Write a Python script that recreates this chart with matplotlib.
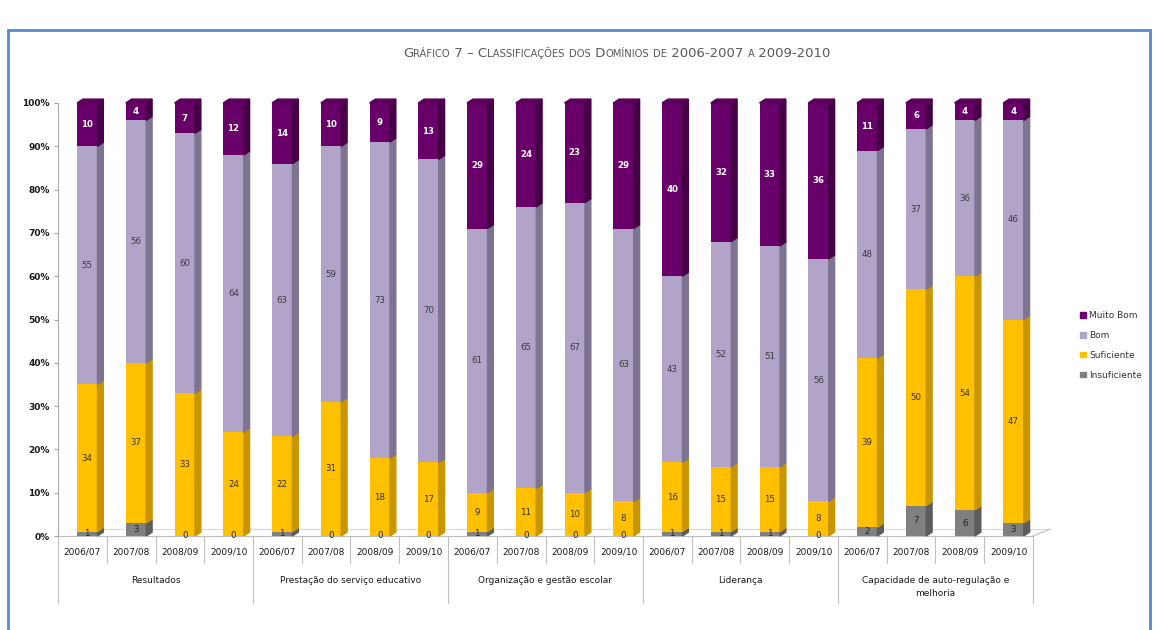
import matplotlib
matplotlib.use("Agg")
import matplotlib.pyplot as plt
from matplotlib.patches import Polygon, Patch, Rectangle
import numpy as np

plt.rcParams['font.family'] = ['DejaVu Sans']

# ---- data ----
groups = ['Resultados', 'Prestação do serviço educativo', 'Organização e gestão escolar',
          'Liderança', 'Capacidade de auto-regulação e\nmelhoria']
years = ['2006/07', '2007/08', '2008/09', '2009/10']
series = ['Insuficiente', 'Suficiente', 'Bom', 'Muito Bom']

insuficiente = [1, 3, 0, 0,   1, 0, 0, 0,   1, 0, 0, 0,   1, 1, 1, 0,   2, 7, 6, 3]
suficiente   = [34, 37, 33, 24,  22, 31, 18, 17,  9, 11, 10, 8,  16, 15, 15, 8,  39, 50, 54, 47]
bom          = [55, 56, 60, 64,  63, 59, 73, 70,  61, 65, 67, 63,  43, 52, 51, 56,  48, 37, 36, 46]
muito_bom    = [10, 4, 7, 12,  14, 10, 9, 13,  29, 24, 23, 29,  40, 32, 33, 36,  11, 6, 4, 4]

values = [insuficiente, suficiente, bom, muito_bom]
front = ['#808080', '#FFC000', '#B2A3C9', '#690069']
side = ['#5C5C5C', '#C89600', '#7E7491', '#460046']
top_col = '#5A005A'
label_col = ['#222222', '#333333', '#3a3a3a', 'white']

W, H = 1155, 630
fig = plt.figure(figsize=(W / 100, H / 100), dpi=100)
ax = fig.add_axes([58 / W, (H - 536) / H, 975 / W, 433 / H])
ax.set_xlim(-0.5, 19.5)
ax.set_ylim(0, 100)

n = len(muito_bom)
x = np.arange(n)
off = 0.1          # bar shift to the right (3D look)
bw = 0.42          # front face width
d = 0.12           # depth in x
dy = 0.9           # depth in y (%)

bottom = np.zeros(n)
for k, vals in enumerate(values):
    vals = np.array(vals, dtype=float)
    ax.bar(x + off, vals, bw, bottom=bottom, color=front[k], zorder=3)
    for i in range(n):
        b, t = bottom[i], bottom[i] + vals[i]
        xr = x[i] + off + bw / 2
        if vals[i] > 0:
            ax.add_patch(Polygon([(xr, b), (xr + d, b + dy), (xr + d, t + dy), (xr, t)],
                                 closed=True, color=side[k], zorder=3, clip_on=False))
        yl = (b + t) / 2
        ax.text(x[i] + off, yl, f'{int(vals[i])}', ha='center', va='center',
                fontsize=6.2, color=label_col[k],
                fontweight='bold' if k == 3 else 'normal', zorder=5)
    bottom += vals

# top faces
for i in range(n):
    xl = x[i] + off - bw / 2
    xr = x[i] + off + bw / 2
    t = bottom[i]
    ax.add_patch(Polygon([(xl, t), (xl + d, t + dy), (xr + d, t + dy), (xr, t)],
                         closed=True, color=top_col, zorder=3, clip_on=False))

# floor
ax.plot([-0.5, 19.5], [0, 0], color='#BFBFBF', lw=0.8, clip_on=False, zorder=2)
ax.plot([-0.5 + 0.35, 19.5 + 0.35], [1.6, 1.6], color='#D9D9D9', lw=0.8, clip_on=False, zorder=1)
ax.plot([19.5, 19.85], [0, 1.6], color='#BFBFBF', lw=0.8, clip_on=False, zorder=1)

# axes styling
for s in ['top', 'right', 'bottom']:
    ax.spines[s].set_visible(False)
ax.spines['left'].set_color('#A6A6A6')
ax.set_yticks(np.arange(0, 101, 10))
ax.set_yticklabels([f'{v}%' for v in range(0, 101, 10)], fontsize=6.5, color='#1a1a1a',
                   fontweight='semibold')
ax.tick_params(axis='y', length=3, color='#A6A6A6', pad=3)
ax.set_xticks([])

# category labels and separators
tr = ax.get_xaxis_transform()
for i in range(n):
    ax.text(x[i], -0.037, years[i % 4], transform=tr, ha='center', va='center',
            fontsize=6.5, color='#1a1a1a')
for j in range(n + 1):
    low = -0.155 if j % 4 == 0 else -0.062
    ax.plot([j - 0.5, j - 0.5], [0, low], transform=tr, color='#BFBFBF', lw=0.8, clip_on=False)
for g, name in enumerate(groups):
    yy = -0.102 if '\n' not in name else -0.118
    ax.text(g * 4 + 1.5, yy, name, transform=tr, ha='center', va='center',
            fontsize=6.5, color='#1a1a1a', linespacing=1.5)

# legend
handles = [Patch(color=front[k], label=series[k]) for k in [3, 2, 1, 0]]
fig.legend(handles=handles, loc='upper left', bbox_to_anchor=(1072 / W, 1 - 303 / H),
           frameon=False, fontsize=6.5, handlelength=0.6, handleheight=0.6,
           handletextpad=0.4, labelspacing=1.2, labelcolor='#333333')

# blue frame
fig.patches.append(Rectangle((8 / W, -0.1), (1150 - 8) / W, 1.1 - 30 / H,
                             transform=fig.transFigure, fill=False,
                             edgecolor='#5B87CF', lw=2))

# title in small caps
title = 'Gráfico 7 – Classificações dos Domínios de 2006-2007 a 2009-2010'
runs = []
for ch in title:
    big = not ch.islower()
    if runs and runs[-1][1] == big:
        runs[-1][0] += ch
    else:
        runs.append([ch, big])
renderer = fig.canvas.get_renderer()
objs = []
for txt, big in runs:
    t = fig.text(0, 1 - 57 / H, txt.upper(), fontsize=9.5 if big else 7.2,
                 color='#595959', va='baseline', ha='left',
                 family=['Liberation Sans Narrow', 'DejaVu Sans'])
    objs.append((t, t.get_window_extent(renderer).width))
total = sum(w for _, w in objs)
pos = 617 - total / 2
for t, w in objs:
    t.set_x(pos / W)
    pos += w

fig.savefig('out.png', dpi=100)
